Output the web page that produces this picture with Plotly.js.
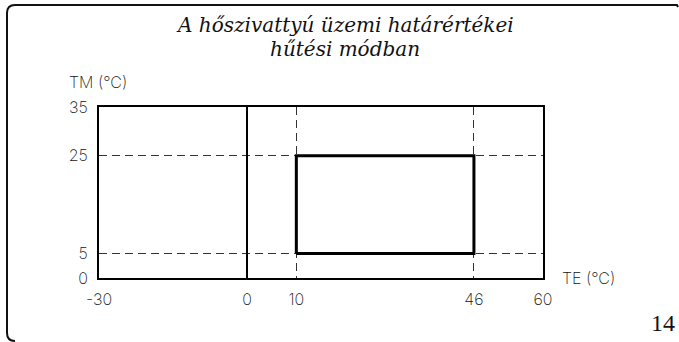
<!DOCTYPE html>
<html>
<head>
<meta charset="utf-8">
<script src="https://cdn.plot.ly/plotly-3.0.1.min.js"></script>
<style>
  html, body { margin: 0; padding: 0; background: #ffffff; }
  #chart { width: 679px; height: 342px; }
</style>
</head>
<body>
<div id="chart"></div>
<script>
// ---- data ----
const titleLine1 = "A hőszivattyú üzemi határértékei";
const titleLine2 = "hűtési módban";
const xAxisLabel = "TE (°C)";
const yAxisLabel = "TM (°C)";
const pageNumber = "14";

const xTickVals = [-30, 0, 10, 46, 60];
const yTickVals = [0, 5, 25, 35];
const xRange = [-30, 60];
const yRange = [0, 35];

// operating envelope (cooling mode): TE 10..46 °C, TM 5..25 °C
const envelopeTE = [10, 46, 46, 10, 10];
const envelopeTM = [5, 5, 25, 25, 5];

// ---- layout helpers (pixel -> paper) ----
const M = { l: 99, r: 136, t: 107, b: 64 };
const W = 679, H = 342;
const PW = W - M.l - M.r, PH = H - M.t - M.b;
const px = x => (x - M.l) / PW;
const py = y => (H - M.b - y) / PH;

const tickFont = { family: "Inter, 'DejaVu Sans', sans-serif", size: 16, color: "#111", weight: 200 };
const titleFont = { family: "'DejaVu Serif', 'Liberation Serif', serif", size: 20, color: "#111", style: "italic" };

const traces = [
  {
    x: envelopeTE, y: envelopeTM,
    type: "scatter", mode: "lines",
    line: { color: "#000", width: 3 },
    hoverinfo: "skip", showlegend: false
  }
];

const borderPath =
  `M ${px(15)},${py(341)} Q ${px(7)},${py(341)} ${px(7)},${py(333)} ` +
  `L ${px(7)},${py(13)} Q ${px(7)},${py(5)} ${px(15)},${py(5)} ` +
  `L ${px(677)},${py(5)} L ${px(678)},${py(7)}`;

const layout = {
  width: W, height: H,
  margin: M,
  paper_bgcolor: "#fff", plot_bgcolor: "#fff",
  showlegend: false,
  xaxis: {
    range: xRange, tickmode: "array", tickvals: xTickVals,
    ticktext: xTickVals.map(String),
    showline: true, mirror: true, linecolor: "#000", linewidth: 2,
    showgrid: true, gridcolor: "#333", gridwidth: 1, griddash: "8px,5px",
    zeroline: true, zerolinecolor: "#000", zerolinewidth: 2,
    ticks: "", ticklabelstandoff: 6,
    tickfont: tickFont, fixedrange: true
  },
  yaxis: {
    range: yRange, tickmode: "array", tickvals: yTickVals,
    ticktext: yTickVals.map(String),
    showline: true, mirror: true, linecolor: "#000", linewidth: 2,
    showgrid: true, gridcolor: "#333", gridwidth: 1, griddash: "8px,5px",
    zeroline: false,
    ticks: "", ticklabelstandoff: 6,
    tickfont: tickFont, fixedrange: true
  },
  shapes: [
    { type: "path", xref: "paper", yref: "paper", path: borderPath,
      line: { color: "#111", width: 2 } }
  ],
  annotations: [
    { text: titleLine1, xref: "paper", yref: "paper", x: px(345), y: py(24.8),
      xanchor: "center", yanchor: "middle", showarrow: false, font: titleFont, borderpad: 0 },
    { text: titleLine2, xref: "paper", yref: "paper", x: px(345), y: py(48.6),
      xanchor: "center", yanchor: "middle", showarrow: false, font: titleFont, borderpad: 0 },
    { text: yAxisLabel, xref: "paper", yref: "paper", x: px(67), y: py(82),
      xanchor: "left", yanchor: "middle", showarrow: false, font: tickFont },
    { text: xAxisLabel, xref: "paper", yref: "paper", x: px(560), y: py(278),
      xanchor: "left", yanchor: "middle", showarrow: false, font: tickFont },
    { text: pageNumber, xref: "paper", yref: "paper", x: px(663), y: py(323),
      xanchor: "center", yanchor: "middle", showarrow: false,
      font: { family: "'Liberation Serif', 'DejaVu Serif', serif", size: 24, color: "#111" } }
  ]
};

Plotly.newPlot("chart", traces, layout, { displayModeBar: false, staticPlot: true });
</script>
</body>
</html>
